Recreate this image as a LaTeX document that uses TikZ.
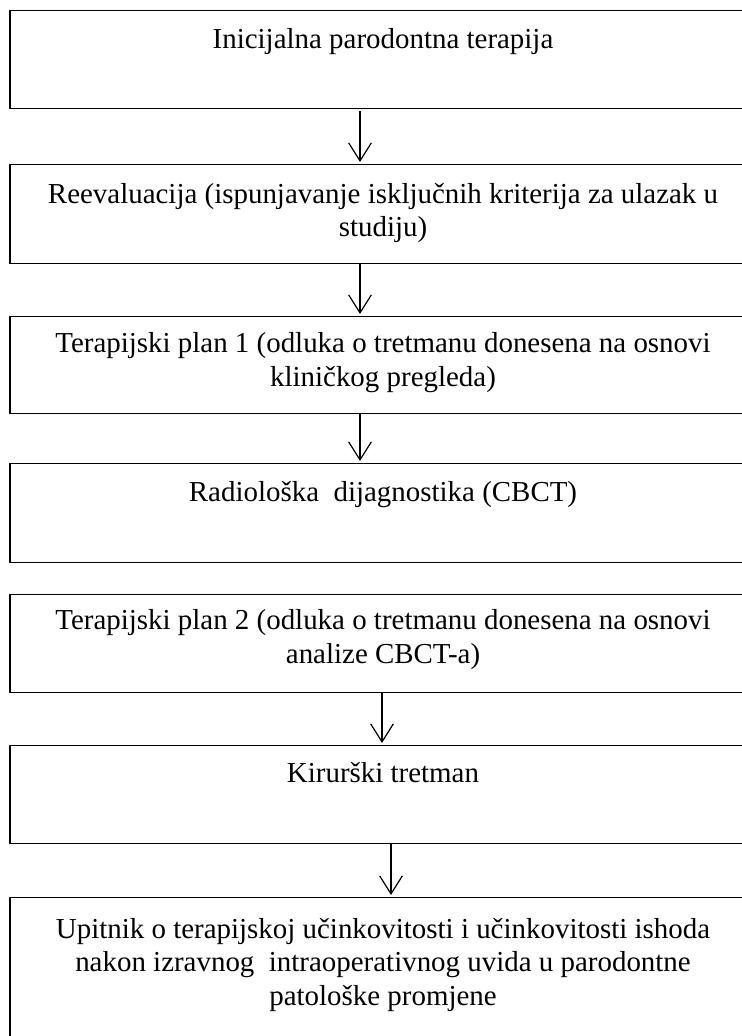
\documentclass[tikz,border=0pt]{standalone}
\usepackage{fontspec}
\setmainfont{Liberation Serif}
\usepackage{tikz}
\usetikzlibrary{positioning,arrows.meta}

\begin{document}
\begin{tikzpicture}[x=0.75pt,y=-0.75pt,
  box/.style={draw, line width=0.9pt, minimum width=559.5pt, anchor=north, inner sep=0pt},
  lbl/.style={align=center, inner sep=0pt, font=\fontsize{21.7}{25}\selectfont},
  arr/.style={-{Straight Barb[length=13.5pt,width=17pt]}, line width=0.9pt, shorten >=1.5pt}]
\useasboundingbox (0,0) rectangle (742,1036);
\node[box, minimum height=73.5pt] (initial) at (383,10) {};
\node[box, minimum height=74.25pt] (reeval) at (383,164) {};
\node[box, minimum height=72.75pt] (plan1) at (383,316) {};
\node[box, minimum height=74.25pt] (cbct) at (383,463) {};
\node[box, minimum height=73.5pt] (plan2) at (383,594) {};
\node[box, minimum height=73.5pt] (surgery) at (383,745) {};
\node[box, minimum height=114.75pt] (survey) at (383,897) {};
\node[lbl, below=13.7pt of initial.north] (initial-txt) {Inicijalna parodontna terapija};
\node[lbl, below=14pt of reeval.north] (reeval-txt) {Reevaluacija (ispunjavanje isključnih kriterija za ulazak u\\ studiju)};
\node[lbl, below=12.4pt of plan1.north] (plan1-txt) {Terapijski plan 1 (odluka o tretmanu donesena na osnovi\\ kliničkog pregleda)};
\node[lbl, below=13.5pt of cbct.north] (cbct-txt) {Radiološka\ \ dijagnostika (CBCT)};
\node[lbl, below=11.6pt of plan2.north] (plan2-txt) {Terapijski plan 2 (odluka o tretmanu donesena na osnovi\\ analize CBCT-a)};
\node[lbl, below=13.1pt of surgery.north] (surgery-txt) {Kirurški tretman};
\node[lbl, below=15.75pt of survey.north] (survey-txt) {Upitnik o terapijskoj učinkovitosti i učinkovitosti ishoda\\ nakon izravnog\ \ intraoperativnog uvida u parodontne\\ patološke promjene};
\draw[arr, shorten <=1.5pt] ([xshift=-17.25pt]initial.south) -- ([xshift=-17.25pt]reeval.north);
\draw[arr] ([xshift=-17.25pt]reeval.south) -- ([xshift=-17.25pt]plan1.north);
\draw[arr] ([xshift=-17.25pt]plan1.south) -- ([xshift=-17.25pt]cbct.north);
\draw[arr] ([xshift=-0.75pt]plan2.south) -- ([xshift=-0.75pt]surgery.north);
\draw[arr] ([xshift=6pt]surgery.south) -- ([xshift=6pt]survey.north);
\end{tikzpicture}
\end{document}
